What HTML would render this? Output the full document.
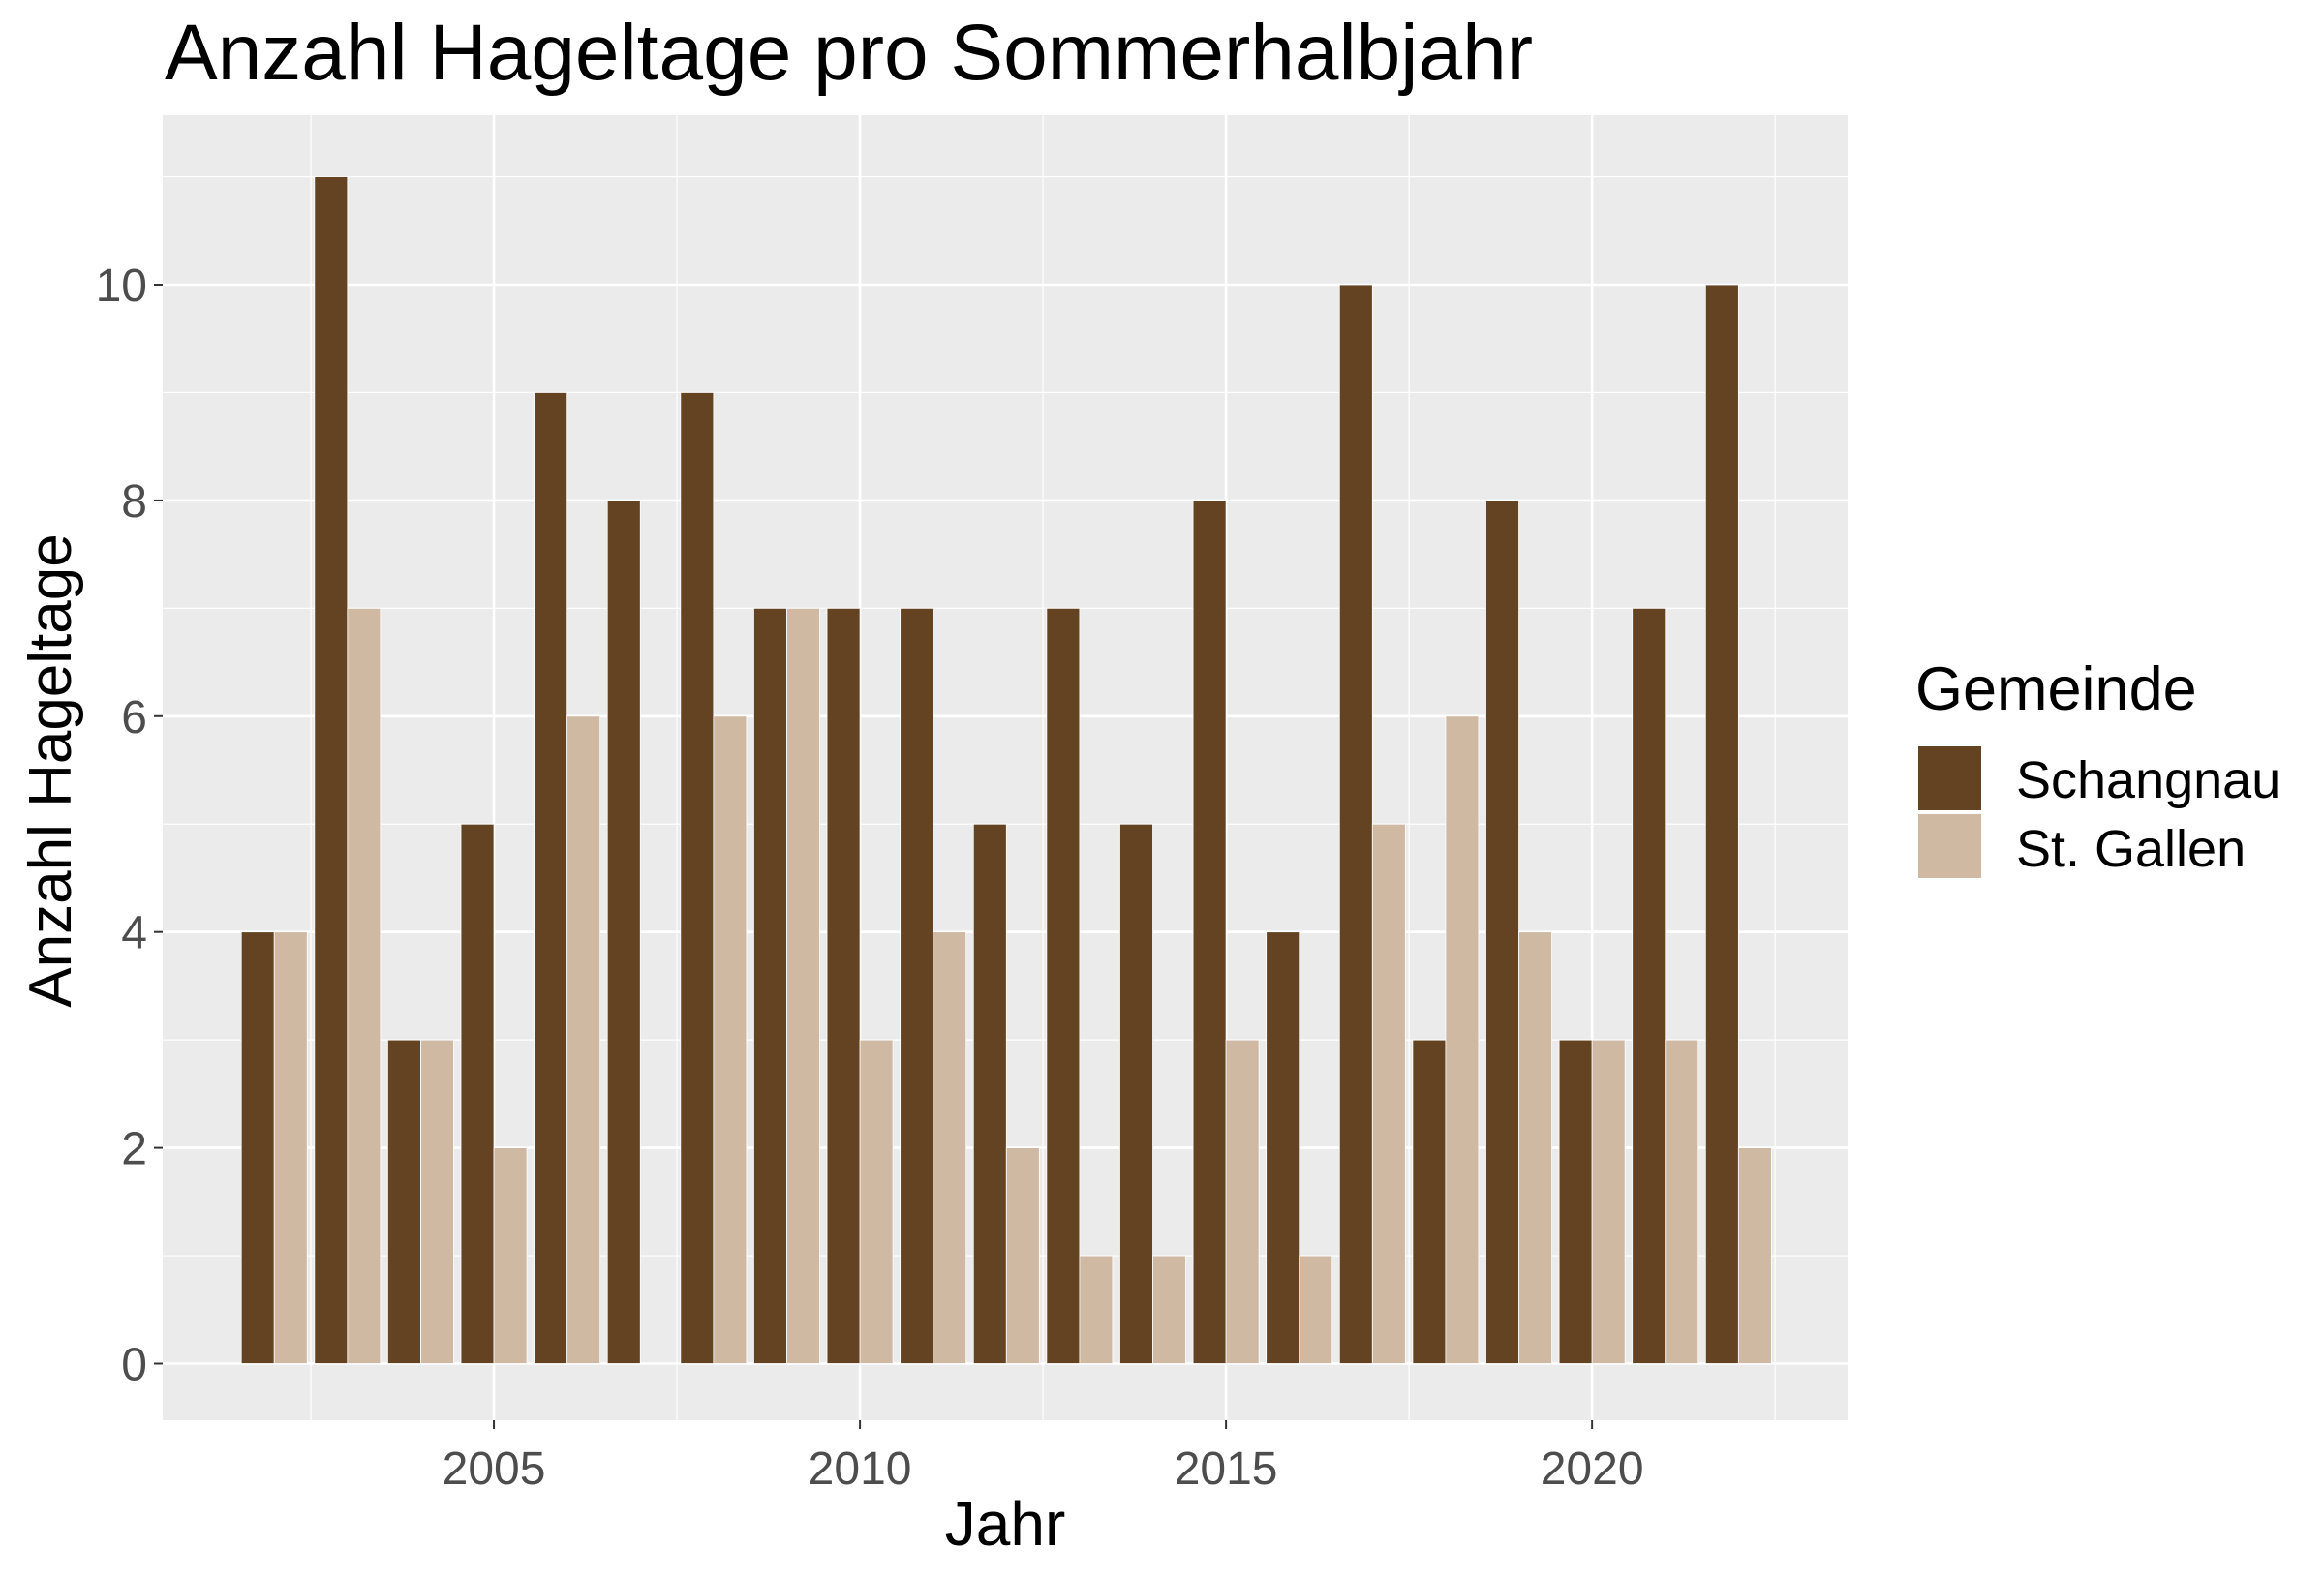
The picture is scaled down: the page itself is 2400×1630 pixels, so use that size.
<!DOCTYPE html>
<html><head><meta charset="utf-8">
<style>
html,body{margin:0;padding:0;background:#fff;}
svg{display:block;font-family:"Liberation Sans",Arial,sans-serif;}
</style></head>
<body>
<svg id="chart" width="2400" height="1630" viewBox="0 0 2400 1630">
<text x="170" y="82" font-size="82" fill="#000">Anzahl Hageltage pro Sommerhalbjahr</text>
<rect x="168" y="119" width="1740" height="1348" fill="#ebebeb"/>
<g id="grid"></g>
<g id="bars"></g>
<g id="axes"></g>
<text x="1038" y="1596" font-size="64" text-anchor="middle" fill="#000">Jahr</text>
<text transform="translate(73,796) rotate(-90)" font-size="62" text-anchor="middle" fill="#000">Anzahl Hageltage</text>
<g>
<text x="1978" y="733" font-size="63" fill="#000">Gemeinde</text>
<rect x="1980" y="770" width="67" height="68" fill="#634322" stroke="#fff" stroke-width="2"/>
<rect x="1980" y="840" width="67" height="68" fill="#d0b9a2" stroke="#fff" stroke-width="2"/>
<text x="2082" y="824" font-size="54" fill="#000">Schangnau</text>
<text x="2082" y="895" font-size="54" fill="#000">St. Gallen</text>
</g>
</svg>
<script>
const years = [2002,2003,2004,2005,2006,2007,2008,2009,2010,2011,2012,2013,2014,2015,2016,2017,2018,2019,2020,2021,2022];
const schangnau = [4,11,3,5,9,8,9,7,7,7,5,7,5,8,4,10,3,8,3,7,10];
const stGallen = [4,7,3,2,6,0,6,7,3,4,2,1,1,3,1,5,6,4,3,3,2];
const yTicks = [0,2,4,6,8,10];
const xTicks = [2005,2010,2015,2020];

const NS = "http://www.w3.org/2000/svg";
const X0 = 168, X1 = 1908, xMin = 2000.476, xMax = 2023.49;
const Y0 = 1408.5, yUnit = 111.45;
const PT = 119, PB = 1467;
const x = v => X0 + (v - xMin) / (xMax - xMin) * (X1 - X0);
const y = v => Y0 - v * yUnit;
function mk(tag, attrs, parent) {
  const e = document.createElementNS(NS, tag);
  for (const k in attrs) e.setAttribute(k, attrs[k]);
  parent.appendChild(e);
  return e;
}
const grid = document.getElementById('grid');
const bars = document.getElementById('bars');
const axes = document.getElementById('axes');
for (let v = 1; v <= 11; v += 2) {
  const l = mk('line', {x1: X0, x2: X1, y1: y(v), y2: y(v), stroke: '#fff', 'stroke-width': 1.2}, grid);
  
  
}
for (const v of [2002.5, 2007.5, 2012.5, 2017.5, 2022.5]) {
  const l = mk('line', {x1: x(v), x2: x(v), y1: PT, y2: PB, stroke: '#fff', 'stroke-width': 1.2}, grid);
  
  
}
yTicks.forEach(v => {
  const l = mk('line', {x1: X0, x2: X1, y1: y(v), y2: y(v), stroke: '#fff', 'stroke-width': 2.6}, grid);
  
  
  const t = mk('line', {x1: 159, x2: 168, y1: y(v), y2: y(v), stroke: '#333', 'stroke-width': 2}, axes);
  
  
  const lab = mk('text', {x: 152, y: y(v) + 17, 'font-size': 48, 'text-anchor': 'end', fill: '#4d4d4d'}, axes);
  lab.textContent = v;
  
  
});
xTicks.forEach(v => {
  const l = mk('line', {x1: x(v), x2: x(v), y1: PT, y2: PB, stroke: '#fff', 'stroke-width': 2.6}, grid);
  
  
  const t = mk('line', {x1: x(v), x2: x(v), y1: PB, y2: PB + 9, stroke: '#333', 'stroke-width': 2}, axes);
  
  
  const lab = mk('text', {x: x(v), y: 1533, 'font-size': 48, 'text-anchor': 'middle', fill: '#4d4d4d'}, axes);
  lab.textContent = v;
  
  
});
const half = 0.45;
years.forEach((yr, i) => {
  if (schangnau[i] > 0) {
    const r = mk('rect', {x: x(yr - half), y: y(schangnau[i]), width: x(yr) - x(yr - half), height: y(0) - y(schangnau[i]), fill: '#634322', stroke: '#fff', 'stroke-width': 0.8}, bars);
    
    
  }
  if (stGallen[i] > 0) {
    const r = mk('rect', {x: x(yr), y: y(stGallen[i]), width: x(yr + half) - x(yr), height: y(0) - y(stGallen[i]), fill: '#d0b9a2', stroke: '#fff', 'stroke-width': 0.8}, bars);
    
    
  }
});
</script>
</body></html>
